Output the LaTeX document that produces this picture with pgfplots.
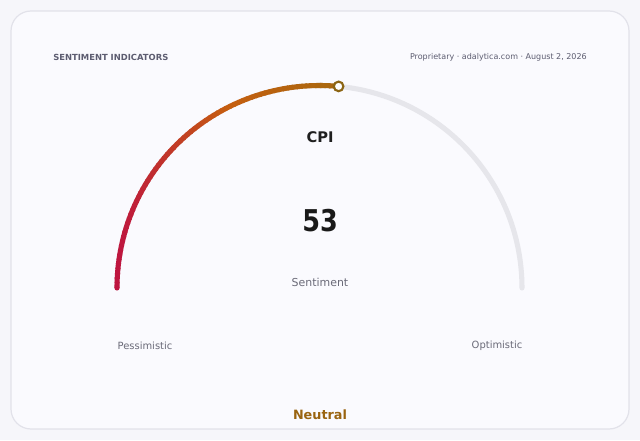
\documentclass[border=0pt]{standalone}
\usepackage{pgfplots}
\pgfplotsset{compat=1.18}
\usepackage{fontspec}
\setmainfont{DejaVu Sans}

\definecolor{pagebg}{HTML}{F6F6FA}
\definecolor{cardbg}{HTML}{FAFAFE}
\definecolor{cardline}{HTML}{E2E2EA}
\definecolor{trackc}{HTML}{E6E6EB}
\definecolor{gstart}{HTML}{BE1440}
\definecolor{gmid}{HTML}{C55E10}
\definecolor{gend}{HTML}{A8680E}
\definecolor{ringc}{HTML}{8C6514}
\definecolor{headc}{HTML}{5C5C70}
\definecolor{subc}{HTML}{6A6A78}
\definecolor{neutralc}{HTML}{9A6410}

% gauge value and geometry (pixels)
\def\gval{53}
\def\gcx{319.5}
\def\gcy{152}
\def\grad{202.5}

\begin{document}
\begin{tikzpicture}[x=0.75pt,y=0.75pt]
% page and card
\fill[pagebg] (0,0) rectangle (640,440);
\filldraw[fill=cardbg, draw=cardline, line width=0.9pt, rounded corners=15pt]
  (11,11) rectangle (629,429);

% background track
\draw[trackc, line width=3.8pt, line cap=round]
  ({\gcx-\grad},\gcy) arc[start angle=180, end angle=0, radius=\grad];

% gradient value arc, 0 .. value (colour follows x position)
\pgfmathsetmacro{\gend}{180-1.8*\gval}
\foreach \i in {0,...,71}{
  \pgfmathsetmacro{\aa}{180-(180-\gend)*\i/72}
  \pgfmathsetmacro{\ab}{180-(180-\gend)*(\i+1.3)/72}
  \pgfmathsetmacro{\am}{180-(180-\gend)*(\i+0.5)/72}
  \pgfmathsetmacro{\tt}{(1+cos(\am))/(1+cos(\gend))}
  \pgfmathtruncatemacro{\pp}{\tt<0.5 ? 100-200*\tt : 200-200*\tt}
  \ifdim\tt pt<0.5pt
    \colorlet{segc}{gstart!\pp!gmid}
  \else
    \colorlet{segc}{gmid!\pp!gend}
  \fi
  \draw[segc, line width=3.8pt, line cap=butt]
    ({\gcx+\grad*cos(\aa)},{\gcy+\grad*sin(\aa)})
    arc[start angle=\aa, end angle=\ab, radius=\grad];
}
\fill[gstart] ({\gcx-\grad},\gcy) circle[radius=1.9pt];

\begin{axis}[
  x=0.75pt, y=0.75pt,
  anchor=origin, at={(0,0)},
  xmin=0, xmax=640, ymin=0, ymax=440,
  hide axis, clip=false,
]
% value marker (53 -> angle 84.6 deg)
\addplot[only marks, mark=*, mark size=3.6pt,
  mark options={fill=white, draw=ringc, line width=1.6pt}]
  coordinates {(338.6,353.6)};

\node[anchor=west, inner sep=0pt, font=\bfseries\fontsize{6.3}{7}\selectfont, text=headc]
  at (axis cs:53,383) {SENTIMENT INDICATORS};
\node[anchor=east, inner sep=0pt, font=\fontsize{6}{7}\selectfont, text=headc]
  at (axis cs:587,383) {Proprietary · adalytica.com · August 2, 2026};

\node[font=\bfseries\fontsize{11}{13}\selectfont, text=black!88]
  at (axis cs:320,303) {CPI};
\node[font=\bfseries\fontsize{22.5}{26}\selectfont, text=black!90]
  at (axis cs:320,219) {\scalebox{0.85}[1]{53}};
\node[font=\fontsize{8.2}{10}\selectfont, text=subc]
  at (axis cs:320,158) {Sentiment};
\node[font=\fontsize{7.45}{9}\selectfont, text=subc]
  at (axis cs:145,94.5) {Pessimistic};
\node[font=\fontsize{7.45}{9}\selectfont, text=subc]
  at (axis cs:497,94.5) {Optimistic};
\node[font=\bfseries\fontsize{9.6}{11}\selectfont, text=neutralc]
  at (axis cs:320,25.5) {Neutral};
\end{axis}
\end{tikzpicture}
\end{document}
